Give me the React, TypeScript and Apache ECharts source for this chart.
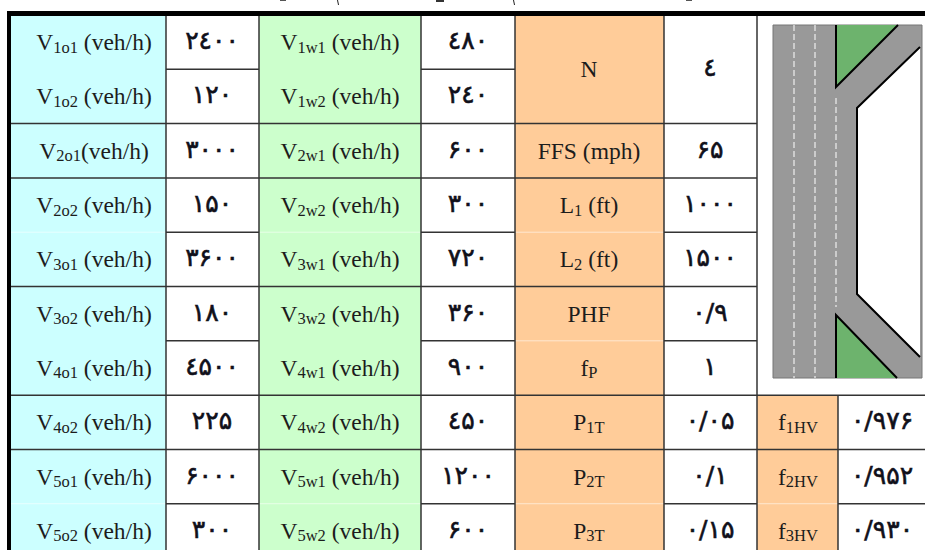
import React, { useEffect, useRef } from "react";
import * as echarts from "echarts";

const colEdges = [11, 166, 259, 421, 515, 664, 757, 838, 925];
const rowCount = 10;
const visibleRows = 9.852;

const blueLabels = [
  "V{s|1o1} (veh/h)", "V{s|1o2} (veh/h)", "V{s|2o1}(veh/h)", "V{s|2o2} (veh/h)", "V{s|3o1} (veh/h)",
  "V{s|3o2} (veh/h)", "V{s|4o1} (veh/h)", "V{s|4o2} (veh/h)", "V{s|5o1} (veh/h)", "V{s|5o2} (veh/h)",
];
const opposingValues = ["۲٤۰۰", "۱۲۰", "۳۰۰۰", "۱۵۰", "۳۶۰۰", "۱۸۰", "٤۵۰۰", "۲۲۵", "۶۰۰۰", "۳۰۰"];
const greenLabels = [
  "V{s|1w1} (veh/h)", "V{s|1w2} (veh/h)", "V{s|2w1} (veh/h)", "V{s|2w2} (veh/h)", "V{s|3w1} (veh/h)",
  "V{s|3w2} (veh/h)", "V{s|4w1} (veh/h)", "V{s|4w2} (veh/h)", "V{s|5w1} (veh/h)", "V{s|5w2} (veh/h)",
];
const weavingValues = ["٤۸۰", "۲٤۰", "۶۰۰", "۳۰۰", "۷۲۰", "۳۶۰", "۹۰۰", "٤۵۰", "۱۲۰۰", "۶۰۰"];
// [label, row position (centre, in rows)]
const paramLabels: [string, number][] = [
  ["N", 1], ["FFS (mph)", 2.5], ["L{s|1} (ft)", 3.5], ["L{s|2} (ft)", 4.5], ["PHF", 5.5],
  ["f{s|P}", 6.5], ["P{s|1T}", 7.5], ["P{s|2T}", 8.5], ["P{s|3T}", 9.5],
];
const paramValues: [string, number][] = [
  ["٤", 1], ["۶۵", 2.5], ["۱۰۰۰", 3.5], ["۱۵۰۰", 4.5], ["۰/۹", 5.5],
  ["۱", 6.5], ["۰/۰۵", 7.5], ["۰/۱", 8.5], ["۰/۱۵", 9.5],
];
const hvLabels = ["f{s|1HV}", "f{s|2HV}", "f{s|3HV}"];
const hvValues = ["۰/۹۷۶", "۰/۹۵۲", "۰/۹۳۰"];

const BLUE = "#ccffff";
const GREEN = "#ccffcc";
const ORANGE = "#ffcc99";
const LINE = "#333333";
const TEXT = "#1c1c1c";
const latin = "Liberation Serif";
const digits = "DejaVu Sans";

const mergedSpans = [[0, 2], [2, 3], [3, 5], [5, 7], [7, 8], [8, 10]];
const tintedRules = [2, 3, 5, 7, 8];
const whiteRules = [1, 2, 3, 4, 5, 6, 7, 8, 9];

type Fill = [number, number, number, number, string];
const fills: Fill[] = [
  ...mergedSpans.map(([a, b]) => [colEdges[0], colEdges[1], a, b, BLUE] as Fill),
  ...mergedSpans.map(([a, b]) => [colEdges[2], colEdges[3], a, b, GREEN] as Fill),
  ...mergedSpans.map(([a, b]) => [colEdges[4], colEdges[5], a, b, ORANGE] as Fill),
  [colEdges[6], colEdges[7], 7, 8, ORANGE],
  [colEdges[6], colEdges[7], 8, 10, ORANGE],
];

type Seg = [number, number, number, number, string, number];
const segs: Seg[] = [];
[[0, 1], [2, 3], [4, 5]].forEach(([a, b]) =>
  tintedRules.forEach((r) => segs.push([colEdges[a], colEdges[b], r, r, LINE, 1.5]))
);
[[1, 2], [3, 4]].forEach(([a, b]) =>
  whiteRules.forEach((r) => segs.push([colEdges[a], colEdges[b], r, r, LINE, 1.5]))
);
whiteRules.filter((r) => r !== 1).forEach((r) => segs.push([colEdges[5], colEdges[6], r, r, LINE, 1.5]));
[7, 8].forEach((r) => segs.push([colEdges[6], colEdges[8], r, r, LINE, 1.5]));
segs.push([colEdges[7], colEdges[8], 9, 9, LINE, 1.5]);
[[0, 1, 4], [2, 3, 4], [4, 5, 4], [4, 5, 6], [0, 1, 9], [2, 3, 9], [4, 5, 9], [6, 7, 9]].forEach(([a, b, r]) =>
  segs.push([colEdges[a], colEdges[b], r, r, "rgba(255,255,255,0.55)", 1])
);
[1, 2, 3, 4, 5, 6].forEach((c) => segs.push([colEdges[c], colEdges[c], 0, rowCount, LINE, 1.5]));
segs.push([colEdges[7], colEdges[7], 7, rowCount, LINE, 1.5]);

type Label = [number, number, string, boolean];
const labels: Label[] = [
  ...blueLabels.map((t, i) => [94, i + 0.5, t, false] as Label),
  ...opposingValues.map((t, i) => [212, i + 0.5, t, true] as Label),
  ...greenLabels.map((t, i) => [340, i + 0.5, t, false] as Label),
  ...weavingValues.map((t, i) => [468, i + 0.5, t, true] as Label),
  ...paramLabels.map(([t, r]) => [589, r, t, false] as Label),
  ...paramValues.map(([t, r]) => [710, r, t, true] as Label),
  ...hvLabels.map((t, i) => [798, i + 7.5, t, false] as Label),
  ...hvValues.map((t, i) => [882, i + 7.5, t, true] as Label),
];

const ROAD = "#999999";
const ROADGREEN = "#6db36d";

echarts.graphic.registerShape(
  "topMark",
  echarts.graphic.extendPath("M0 0 L1 0 L2 5 L1 5 Z", {})
);

function buildOption() {
  return {
    animation: false,
    backgroundColor: "#ffffff",
    grid: { left: 0, top: 15, width: 925, height: 535 },
    xAxis: { type: "value", min: 0, max: 925, show: false },
    yAxis: { type: "value", min: 0, max: visibleRows, inverse: true, show: false },
    series: [
      {
        type: "custom",
        coordinateSystem: "cartesian2d",
        z: 1,
        data: fills.map((_, i) => [i, 0]),
        renderItem: (p: any, api: any) => {
          const [x0, x1, r0, r1, color] = fills[p.dataIndex];
          const a = api.coord([x0, r0]);
          const b = api.coord([x1, r1]);
          return { type: "rect", shape: { x: a[0], y: a[1], width: b[0] - a[0], height: b[1] - a[1] }, style: { fill: color } };
        },
      },
      {
        type: "custom",
        coordinateSystem: "cartesian2d",
        z: 2,
        data: segs.map((_, i) => [i, 0]),
        renderItem: (p: any, api: any) => {
          const [x0, x1, r0, r1, color, w] = segs[p.dataIndex];
          const a = api.coord([x0, r0]);
          const b = api.coord([x1, r1]);
          return { type: "line", shape: { x1: a[0], y1: a[1], x2: b[0], y2: b[1] }, style: { stroke: color, lineWidth: w } };
        },
      },
      {
        type: "custom",
        coordinateSystem: "cartesian2d",
        z: 3,
        data: labels.map((_, i) => [i, 0]),
        renderItem: (p: any, api: any) => {
          const [x, r, t, isDigit] = labels[p.dataIndex];
          const c = api.coord([x, r]);
          return {
            type: "text",
            style: isDigit
              ? {
                  text: t, x: c[0], y: c[1] - 1.5, align: "center", verticalAlign: "middle",
                  fill: "#10101a", stroke: "#10101a", lineWidth: 0.6, font: `25px "${digits}"`,
                }
              : {
                  text: t, x: c[0], y: c[1], align: "center", verticalAlign: "middle",
                  fill: TEXT, font: `23.5px "${latin}"`,
                  rich: { s: { font: `16.5px "${latin}"`, fill: TEXT, verticalAlign: "bottom", padding: [10, 0, 0, 0] } },
                },
          };
        },
      },
    ],
    graphic: [
      { type: "rect", shape: { x: 7, y: 11, width: 918, height: 5 }, style: { fill: "#000" }, z: 10 },
      { type: "rect", shape: { x: 7, y: 11, width: 4, height: 539 }, style: { fill: "#000" }, z: 10 },
      { type: "rect", shape: { x: 773, y: 25, width: 149, height: 353 }, style: { fill: ROAD, stroke: "#777", lineWidth: 1 }, z: 10 },
      { type: "polygon", shape: { points: [[857, 108], [920, 47], [920, 357], [857, 294]] }, style: { fill: "#fff", lineWidth: 0 }, z: 11 },
      { type: "polyline", shape: { points: [[920, 47], [857, 108], [857, 294], [920, 357]] }, style: { stroke: "#000", lineWidth: 2, fill: "none" }, z: 12 },
      { type: "polygon", shape: { points: [[836, 25], [898, 25], [836, 87]] }, style: { fill: ROADGREEN }, z: 11 },
      { type: "polygon", shape: { points: [[836, 378], [897, 378], [836, 315]] }, style: { fill: ROADGREEN }, z: 11 },
      { type: "polyline", shape: { points: [[836, 25], [836, 87], [898, 25]] }, style: { stroke: "#000", lineWidth: 2, fill: "none" }, z: 12 },
      { type: "polyline", shape: { points: [[836, 378], [836, 315], [897, 378]] }, style: { stroke: "#000", lineWidth: 2, fill: "none" }, z: 12 },
      { type: "line", shape: { x1: 794, y1: 25, x2: 794, y2: 378 }, style: { stroke: "#dddddd", lineWidth: 1.5, lineDash: [6, 3] }, z: 12 },
      { type: "line", shape: { x1: 815, y1: 25, x2: 815, y2: 378 }, style: { stroke: "#dddddd", lineWidth: 1.5, lineDash: [6, 3] }, z: 12 },
      { type: "line", shape: { x1: 836, y1: 98, x2: 836, y2: 307 }, style: { stroke: "#dddddd", lineWidth: 1.5, lineDash: [6, 3] }, z: 12 },
      { type: "topMark", x: 337, y: 0, style: { fill: "#222" }, z: 12 },
      { type: "topMark", x: 513, y: 0, style: { fill: "#222" }, z: 12 },
      { type: "rect", shape: { x: 280, y: 0, width: 6, height: 1 }, style: { fill: "#555" }, z: 12 },
      { type: "rect", shape: { x: 436, y: 0, width: 8, height: 2 }, style: { fill: "#333" }, z: 12 },
      { type: "rect", shape: { x: 686, y: 0, width: 6, height: 1 }, style: { fill: "#555" }, z: 12 },
    ],
  };
}

export default function App() {
  const ref = useRef<HTMLDivElement>(null);
  useEffect(() => {
    document.body.style.margin = "0";
    const chart = echarts.init(ref.current!, undefined, { renderer: "svg" });
    chart.setOption(buildOption() as any);
    return () => chart.dispose();
  }, []);
  return <div ref={ref} style={{ width: 925, height: 550 }} />;
}
